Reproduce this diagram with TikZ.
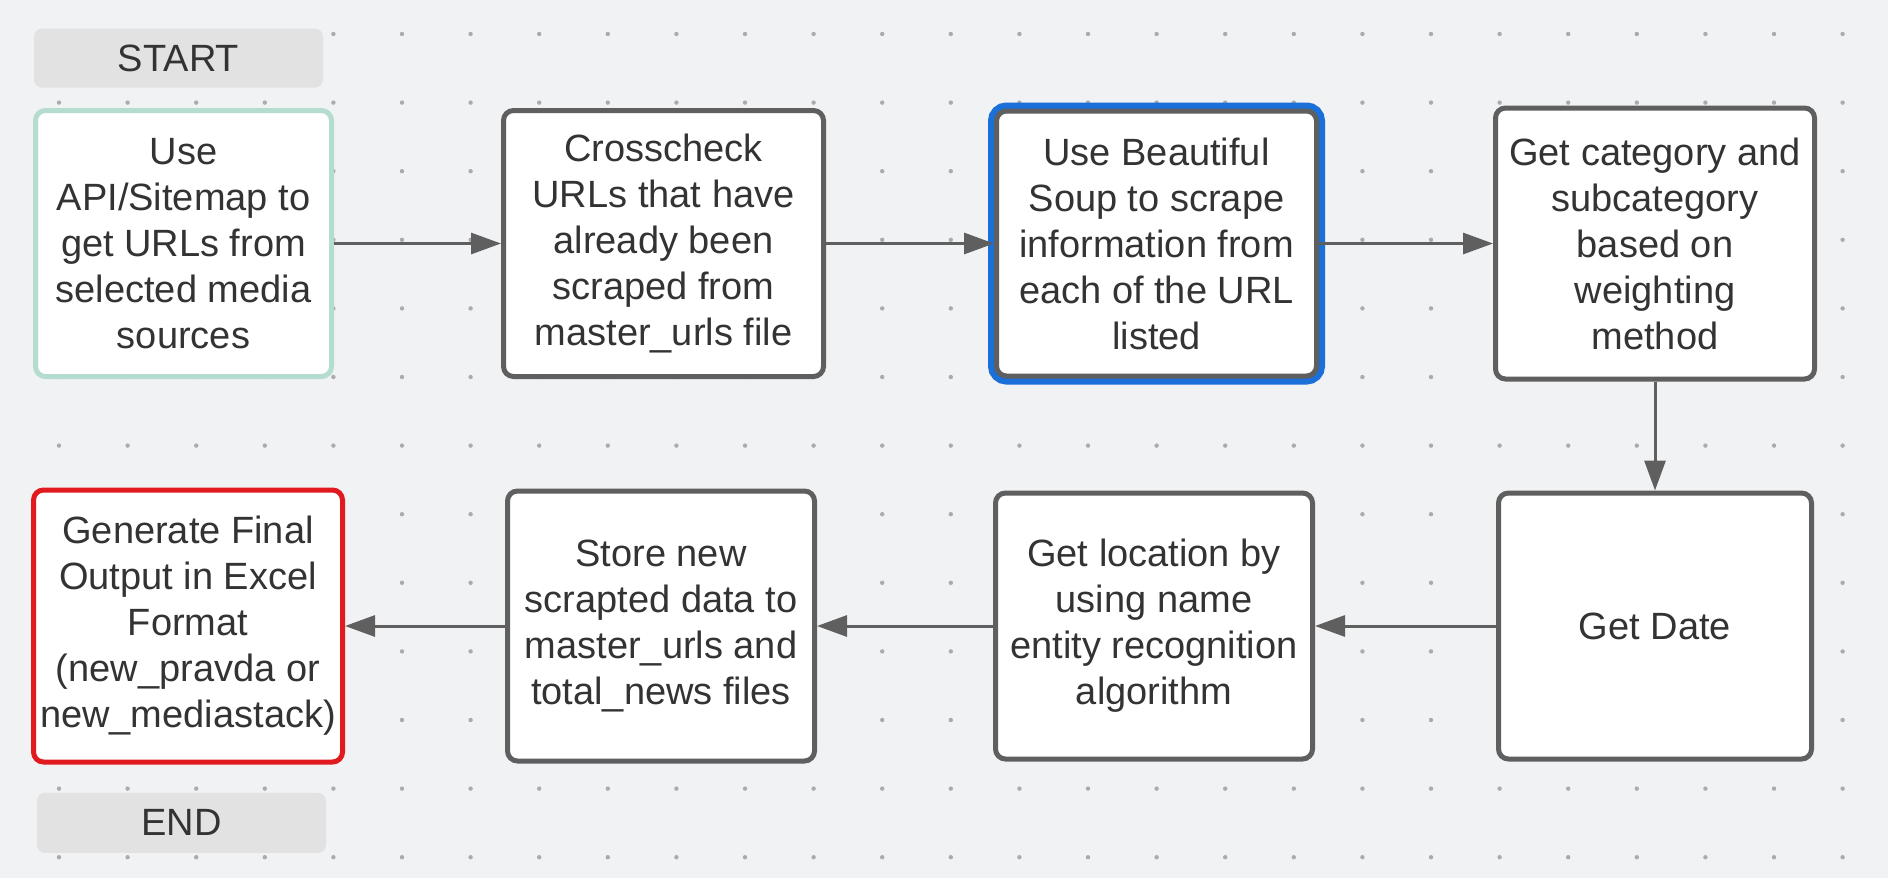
\documentclass[tikz,border=0pt]{standalone}
\usepackage{fontspec}
\setmainfont{Liberation Sans}
\usetikzlibrary{
positioning,%
arrows.meta
}
\definecolor{bggray}{HTML}{F1F2F4}
\definecolor{dotgray}{HTML}{ABABAB}
\definecolor{boxgray}{HTML}{5F5F5F}
\definecolor{textgray}{HTML}{333333}
\definecolor{termgray}{HTML}{E2E2E2}
\definecolor{mintline}{HTML}{B4DDCF}
\definecolor{redline}{HTML}{E01A1E}
\definecolor{selblue}{HTML}{1A6FD8}
\newcommand{\boxfont}{\fontsize{19}{23}\selectfont}
\tikzset{
    proc/.style={draw=boxgray, line width=2.5pt, fill=white, rounded corners=5pt,
        align=center, text=textgray, font=\boxfont, inner sep=0pt,
        minimum width=160pt, minimum height=133pt},
    firstproc/.style={proc, draw=mintline},
    lastproc/.style={proc, draw=redline},
    selproc/.style={proc, preaction={draw=selblue, line width=8.5pt}},
    terminal/.style={fill=termgray, rounded corners=4pt, text=textgray,
        font=\boxfont, inner sep=0pt, minimum width=144.5pt, minimum height=29.5pt},
    flow/.style={draw=boxgray, line width=1.5pt, -{Triangle[length=15pt, width=10.5pt]}}
}

\begin{document}
\begin{tikzpicture}[x=0.5pt, y=-0.5pt]
    \useasboundingbox (0,0) rectangle (1888,878);
    \fill[bggray] (0,0) rectangle (1888,878);
    % ---- dot grid
    \foreach \i in {0,...,26}
        \foreach \j in {0,...,12}
            \fill[dotgray] (59+68.6*\i, 34+68.6*\j) circle (1.1pt);
    % ---- top row
    \node[firstproc, minimum width=148pt] (b1) at (183.5,243.5)
        {Use\\API/Sitemap to\\get URLs from\\selected media\\sources};
    \node[proc, right = 83.5pt of b1] (b2)
        {Crosscheck\\URLs that have\\already been\\scraped from\\master\_urls file};
    \node[selproc, right = 84pt of b2, minimum height=132.5pt] (b3)
        {Use Beautiful\\Soup to scrape\\information from\\each of the URL\\listed};
    \node[proc, right = 87pt of b3, minimum width=159.5pt, minimum height=135.5pt] (b4)
        {Get category and\\subcategory\\based on\\weighting\\method};
    % ---- bottom row
    \node[proc, below = 54.5pt of b4, minimum width=156.5pt] (b8) {Get Date};
    \node[proc, left = 90.5pt of b8, minimum width=158.5pt] (b7)
        {Get location by\\using name\\entity recognition\\algorithm};
    \node[proc, left = 88pt of b7, minimum width=153.5pt, minimum height=135pt] (b6)
        {Store new\\scrapted data to\\master\_urls and\\total\_news files};
    \node[lastproc, left = 80pt of b6, minimum width=154.5pt, minimum height=136pt] (b5)
        {Generate Final\\Output in Excel\\Format\\(new\_pravda or\\new\_mediastack)};
    % ---- start / end
    \node[terminal, above = 10pt of b1, xshift=-2.5pt] (start) {START};
    \node[terminal, below = 14pt of b5, xshift=-3.25pt, minimum height=30pt] (end) {END};
    % ---- flow
    \draw[flow] (b1) -- (b2);
    \draw[flow] (b2) -- (b3);
    \draw[flow] (b3) -- (b4);
    \draw[flow] (b4) -- (b8);
    \draw[flow] (b8) -- (b7);
    \draw[flow] (b7) -- (b6);
    \draw[flow] (b6) -- (b5);
\end{tikzpicture}
\end{document}
